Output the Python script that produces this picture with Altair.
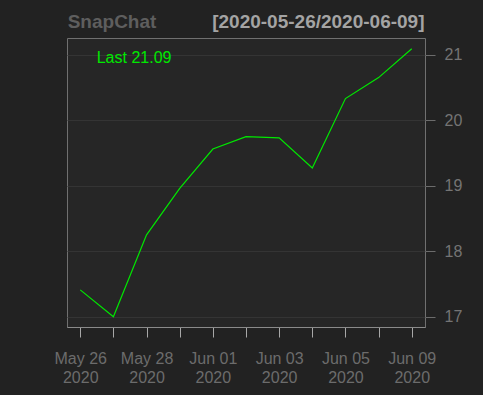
import json
import altair as alt
import pandas as pd

# ---- data ----
dates = ["2020-05-26", "2020-05-27", "2020-05-28", "2020-05-29", "2020-06-01",
         "2020-06-02", "2020-06-03", "2020-06-04", "2020-06-05", "2020-06-08",
         "2020-06-09"]
close = [17.41, 17.00, 18.25, 18.96, 19.56, 19.75, 19.73, 19.27, 20.33, 20.65, 21.09]
tick_labels = ["May 26|2020", "", "May 28|2020", "", "Jun 01|2020", "",
               "Jun 03|2020", "", "Jun 05|2020", "", "Jun 09|2020"]
y_ticks = [17, 18, 19, 20, 21]
series_name = "SnapChat"
range_label = "[2020-05-26/2020-06-09]"

df = pd.DataFrame({"idx": list(range(len(dates))), "date": dates, "close": close})

FONT = "Liberation Sans"
GREEN = "#00e800"
W, H = 358, 289

label_expr = "split(" + json.dumps(tick_labels) + "[datum.value], '|')"

line = alt.Chart(df).mark_line(color=GREEN, strokeWidth=1.2).encode(
    x=alt.X("idx:Q",
            scale=alt.Scale(domain=[-0.4, 10.4], nice=False, zero=False),
            axis=alt.Axis(values=list(range(len(dates))), labelExpr=label_expr,
                          title=None, grid=False, tickSize=10, tickColor="#a8a8a8",
                          domainColor="#8a8a8a", labelColor="#6c6c6c",
                          labelFontSize=16, labelFont=FONT, labelPadding=13,
                          labelLineHeight=19, labelBaseline="top",
                          labelFlush=False, labelOverlap=False)),
    y=alt.Y("close:Q",
            scale=alt.Scale(domain=[16.843, 21.255], nice=False, zero=False),
            axis=alt.Axis(orient="right", values=y_ticks, title=None,
                          grid=True, gridColor="#343434", gridWidth=1,
                          tickSize=10, tickColor="#6c6c6c", domain=False,
                          labelColor="#747474", labelFontSize=16, labelFont=FONT,
                          labelPadding=9)),
)

last_df = pd.DataFrame({"t": ["Last " + f"{close[-1]:.2f}"]})
last_txt = alt.Chart(last_df).mark_text(
    align="left", baseline="alphabetic", font=FONT, fontSize=16, color=GREEN
).encode(x=alt.value(29.7), y=alt.value(25.3), text="t:N")

t1 = alt.Chart(pd.DataFrame({"t": [series_name]})).mark_text(
    align="left", baseline="alphabetic", font=FONT, fontSize=19,
    fontWeight="bold", color="#5e5e5e"
).encode(x=alt.value(0.7), y=alt.value(-10.3), text="t:N")

t2 = alt.Chart(pd.DataFrame({"t": [range_label]})).mark_text(
    align="right", baseline="alphabetic", font=FONT, fontSize=19,
    fontWeight="bold", color="#a4a4a4"
).encode(x=alt.value(357.5), y=alt.value(-10.3), text="t:N")

chart = alt.layer(line, last_txt, t1, t2).properties(
    width=W, height=H,
    background="#222222",
    padding={"left": 67, "top": 38, "right": 58, "bottom": 68},
    autosize=alt.AutoSizeParams(type="none"),
).configure_view(fill="#262626", stroke="#707070", strokeWidth=1)

chart.save("out.html", embed_options={"renderer": "svg", "actions": False})
